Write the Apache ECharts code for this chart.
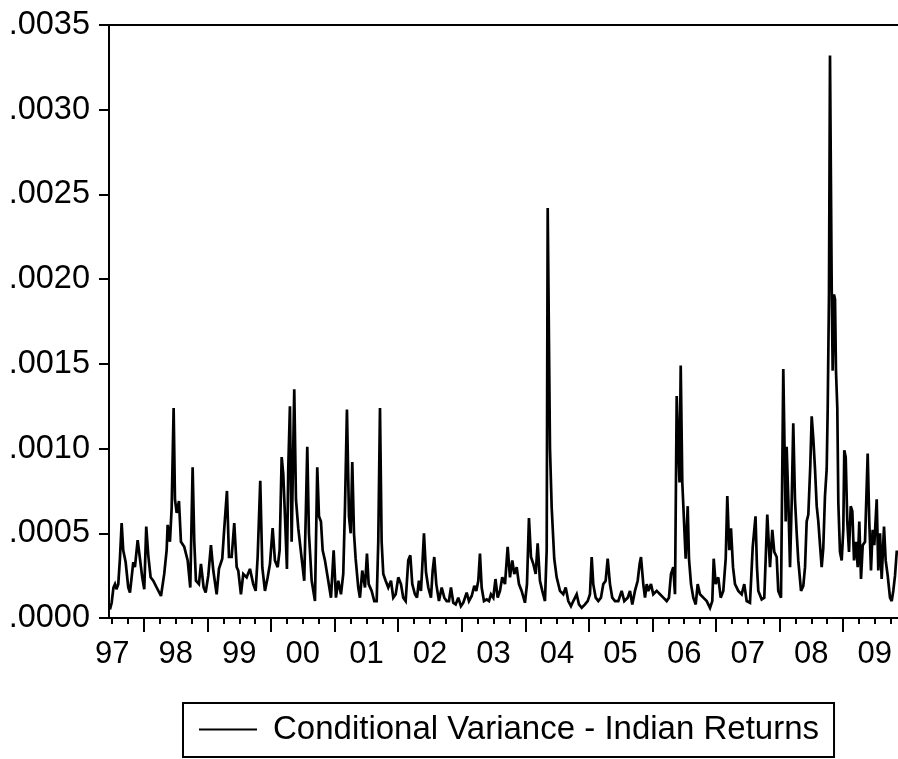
<!DOCTYPE html>
<html>
<head>
<meta charset="utf-8">
<title>Conditional Variance - Indian Returns</title>
<script src="https://cdn.jsdelivr.net/npm/echarts@6/dist/echarts.min.js"></script>
<style>
  html, body { margin: 0; padding: 0; background: #fff; }
  #chart { width: 898px; height: 759px; }
</style>
</head>
<body>
<div id="chart"></div>
<script>
// Conditional variance of Indian returns, values in units of 1e-4.
// dYYYY: position inside the year (fraction of a year), vYYYY: variance.
const d1997 = [.465,.492,.520,.544,.567,.596,.622,.649,.674,.712,.753,.780,.832,.858,.901,.937,.973];
const v1997 = [0.5,0.9,1.8,2.0,1.7,2.0,3.5,5.6,4.0,3.3,1.8,1.5,3.3,3.0,4.6,3.5,2.4];

const d1998 = [.005,.036,.068,.105,.146,.200,.268,.319,.357,.373,.409,.436,.467,.488,.515,.551,.582,.634,.688,.729,.766,.792,.818,.865,.897,.939,.971];
const v1998 = [1.7,5.4,3.7,2.4,2.2,1.8,1.3,2.6,4.0,5.5,4.5,6.5,12.4,7.0,6.2,6.9,4.5,4.2,3.4,1.8,8.9,4.5,2.2,2.0,3.2,1.8,1.5];

const d1999 = [.012,.054,.091,.144,.180,.232,.264,.306,.338,.380,.421,.459,.484,.526,.563,.616,.668,.720,.758,.789,.830,.862,.904,.947,.983];
const v1999 = [2.5,4.3,2.8,1.4,2.9,3.5,5.3,7.5,3.6,3.6,5.6,3.0,2.8,1.4,2.6,2.4,2.9,2.0,1.6,3.6,8.1,3.0,1.6,2.4,3.2];

const d2000 = [.025,.061,.104,.135,.167,.192,.219,.250,.271,.297,.324,.365,.392,.428,.482,.522,.549,.570,.596,.639,.691,.727,.754,.785,.812,.848,.891,.943,.985];
const v2000 = [5.3,3.4,3.0,4.0,9.5,8.5,6.0,2.9,8.9,12.5,4.5,13.5,7.0,5.3,3.5,2.2,6.5,10.1,5.0,2.2,1.0,8.9,6.0,5.7,4.0,3.4,2.4,1.2,4.0];

const d2001 = [.021,.058,.100,.136,.163,.194,.226,.253,.278,.305,.331,.372,.399,.435,.478,.509,.536,.583,.624,.662,.687,.714,.740,.766,.803,.844,.887,.923,.961];
const v2001 = [1.2,2.2,1.4,2.6,6.5,12.3,6.0,5.0,9.2,5.0,3.5,1.8,1.2,2.8,1.8,3.8,2.0,1.6,1.0,1.0,4.5,12.4,4.5,2.6,2.2,1.8,2.2,1.2,1.4];

const d2002 = [.002,.044,.080,.118,.159,.191,.222,.264,.296,.327,.359,.379,.406,.438,.474,.516,.543,.568,.600,.642,.685,.726,.763,.799,.831,.867,.905,.946,.988];
const v2002 = [2.4,2.0,1.2,1.0,3.4,3.7,2.0,1.4,1.2,2.2,1.6,3.0,5.0,2.7,1.8,1.2,2.8,3.6,2.0,1.0,1.8,1.2,1.0,1.0,1.8,0.9,0.8,1.2,0.7];

const d2003 = [.025,.078,.114,.157,.198,.229,.261,.287,.314,.350,.393,.429,.460,.497,.531,.566,.602,.638,.681,.723,.759,.796,.827,.865,.901,.943,.995];
const v2003 = [0.9,1.5,1.0,1.3,1.9,1.6,2.2,3.8,1.8,1.0,1.1,1.0,1.4,1.2,2.3,1.2,1.6,2.4,2.0,4.2,2.4,3.4,2.6,3.0,2.0,1.6,0.9];

const d2004 = [.027,.058,.090,.126,.164,.195,.231,.268,.310,.337,.353,.389,.416,.456,.494,.546,.598,.636,.677,.719,.756,.809,.845,.888,.940,.982];
const v2004 = [2.0,5.9,3.6,3.2,2.6,4.4,2.2,1.6,1.0,4.0,24.2,10.0,6.5,3.5,2.4,1.6,1.4,1.8,1.0,0.7,1.0,1.4,0.8,0.6,0.8,1.0];

const d2005 = [.018,.045,.070,.108,.149,.191,.228,.265,.297,.333,.369,.412,.464,.517,.558,.612,.648,.684,.726,.769,.800,.821,.857,.884,.911,.936,.978];
const v2005 = [1.4,3.6,2.0,1.2,1.0,1.2,2.0,2.2,3.5,2.0,1.2,1.0,1.0,1.6,1.0,1.2,1.6,0.8,1.6,2.2,3.2,3.6,2.0,1.2,2.0,1.6,2.0];

const d2006 = [.014,.068,.120,.172,.225,.261,.293,.329,.356,.383,.408,.427,.446,.471,.493,.524,.556,.576,.608,.644,.682,.713,.749,.801,.855,.907,.943,.965,.996];
const v2006 = [1.4,1.6,1.4,1.2,1.0,1.2,2.6,3.0,1.4,13.1,10.0,8.0,14.9,8.0,7.9,3.5,6.6,3.5,2.0,1.2,0.8,2.0,1.4,1.2,1.0,0.6,1.0,3.5,2.0];

const d2007 = [.037,.075,.116,.154,.179,.210,.237,.269,.300,.352,.405,.446,.484,.536,.579,.623,.646,.667,.720,.761,.808,.851,.887,.918,.956,.981];
const v2007 = [2.4,1.2,1.6,3.5,7.2,4.0,5.3,3.0,2.0,1.6,1.4,2.0,1.0,0.9,4.2,6.0,3.0,1.6,1.1,1.2,6.1,3.0,5.2,3.9,3.6,1.6];

const d2008 = [.024,.060,.098,.113,.139,.166,.192,.217,.244,.271,.296,.339,.375,.402,.428,.454,.485,.507,.532,.559,.586,.611,.638,.664,.689,.716,.743,.759,.779,.795,.822,.837,.858,.874,.889,.910,.926,.952,.979];
const v2008 = [1.2,14.7,5.7,10.1,7.0,3.0,6.8,11.5,7.0,5.0,3.4,1.6,1.9,3.0,5.7,6.1,9.0,11.9,10.6,8.8,6.6,5.7,4.3,3.0,4.1,7.2,8.8,12.4,19.1,33.2,19.5,14.6,19.1,18.8,14.6,12.4,6.8,3.9,3.4];

const d2009 = [.004,.020,.042,.067,.094,.121,.146,.173,.204,.231,.256,.283,.310,.346,.388,.413,.440,.466,.492,.530,.555,.582,.608,.645,.671,.703,.739,.766,.791,.818,.845,.865];
const v2009 = [5.2,9.9,9.5,5.7,3.9,6.6,6.3,3.4,4.5,3.0,5.7,2.3,4.3,4.5,9.7,5.7,2.8,5.2,4.3,7.0,2.8,5.0,2.3,5.4,3.4,2.5,1.2,1.0,1.6,2.5,3.9,3.9];

// Axis ticks and labels
const yearLabels = ['97','98','99','00','01','02','03','04','05','06','07','08','09'];
const firstYear = 1997;
const xStart = 1997.45, xEnd = 2009.865;

const blocks = [
  [1997, d1997, v1997], [1998, d1998, v1998], [1999, d1999, v1999],
  [2000, d2000, v2000], [2001, d2001, v2001], [2002, d2002, v2002],
  [2003, d2003, v2003], [2004, d2004, v2004], [2005, d2005, v2005],
  [2006, d2006, v2006], [2007, d2007, v2007], [2008, d2008, v2008],
  [2009, d2009, v2009]
];
const seriesData = [];
blocks.forEach(([yr, d, v]) => {
  d.forEach((o, i) => seriesData.push([yr + o, v[i] * 1e-4]));
});

// label positions: middle of each year; long ticks: year boundaries; short ticks: quarters
const labelPos = yearLabels.map((_, i) => firstYear + i + 0.5);
const yearBounds = yearLabels.slice(1).map((_, i) => firstYear + i + 1);
const quarterPos = [];
for (let q = 1997.5; q < xEnd; q += 0.25) quarterPos.push(q);

const FONT = '"Liberation Sans", Arial, Helvetica, sans-serif';
const BLACK = '#000';

const chart = echarts.init(document.getElementById('chart'), null, { renderer: 'canvas' });
chart.setOption({
  backgroundColor: '#fff',
  animation: false,
  grid: { left: 109, right: 0, top: 25, bottom: 141, containLabel: false },
  legend: {
    data: ['Conditional Variance - Indian Returns'],
    left: 183, top: 703,
    orient: 'horizontal',
    icon: 'rect',
    itemWidth: 58, itemHeight: 2,
    borderColor: BLACK, borderWidth: 2,
    padding: [10, 15, 11, 16],
    itemStyle: { color: BLACK },
    textStyle: { fontFamily: FONT, fontSize: 33, color: BLACK, padding: [0, 0, 0, 11] }
  },
  xAxis: [
    {
      type: 'value', min: xStart, max: xEnd, position: 'bottom',
      axisLine: { show: true, onZero: false, lineStyle: { color: BLACK, width: 2 } },
      axisTick: { show: true, customValues: quarterPos, length: 6, lineStyle: { color: BLACK, width: 2 } },
      axisLabel: {
        show: true, customValues: labelPos, margin: 21,
        fontFamily: FONT, fontSize: 31, color: BLACK,
        formatter: (val) => yearLabels[Math.round(val - 0.5) - firstYear]
      },
      splitLine: { show: false }
    },
    {
      type: 'value', min: xStart, max: xEnd, position: 'bottom',
      axisLine: { show: false },
      axisTick: { show: true, customValues: yearBounds, length: 14, lineStyle: { color: BLACK, width: 2 } },
      axisLabel: { show: false },
      splitLine: { show: false }
    },
    {
      type: 'value', min: xStart, max: xEnd, position: 'top',
      axisLine: { show: true, onZero: false, lineStyle: { color: BLACK, width: 2 } },
      axisTick: { show: false }, axisLabel: { show: false }, splitLine: { show: false }
    }
  ],
  yAxis: {
    type: 'value', min: 0, max: 0.0035, interval: 0.0005,
    axisLine: { show: true, lineStyle: { color: BLACK, width: 2 } },
    axisTick: { show: true, length: 10, lineStyle: { color: BLACK, width: 2 } },
    axisLabel: {
      margin: 19, fontFamily: FONT, fontSize: 32.5, color: BLACK,
      formatter: (val) => val.toFixed(4).replace(/^0/, '')
    },
    splitLine: { show: false }
  },
  series: [{
    name: 'Conditional Variance - Indian Returns',
    type: 'line',
    xAxisIndex: 0,
    data: seriesData,
    showSymbol: false,
    symbol: 'none',
    lineStyle: { color: BLACK, width: 2.7, join: 'miter', miterLimit: 3 },
    itemStyle: { color: BLACK }
  }]
});
</script>
</body>
</html>
